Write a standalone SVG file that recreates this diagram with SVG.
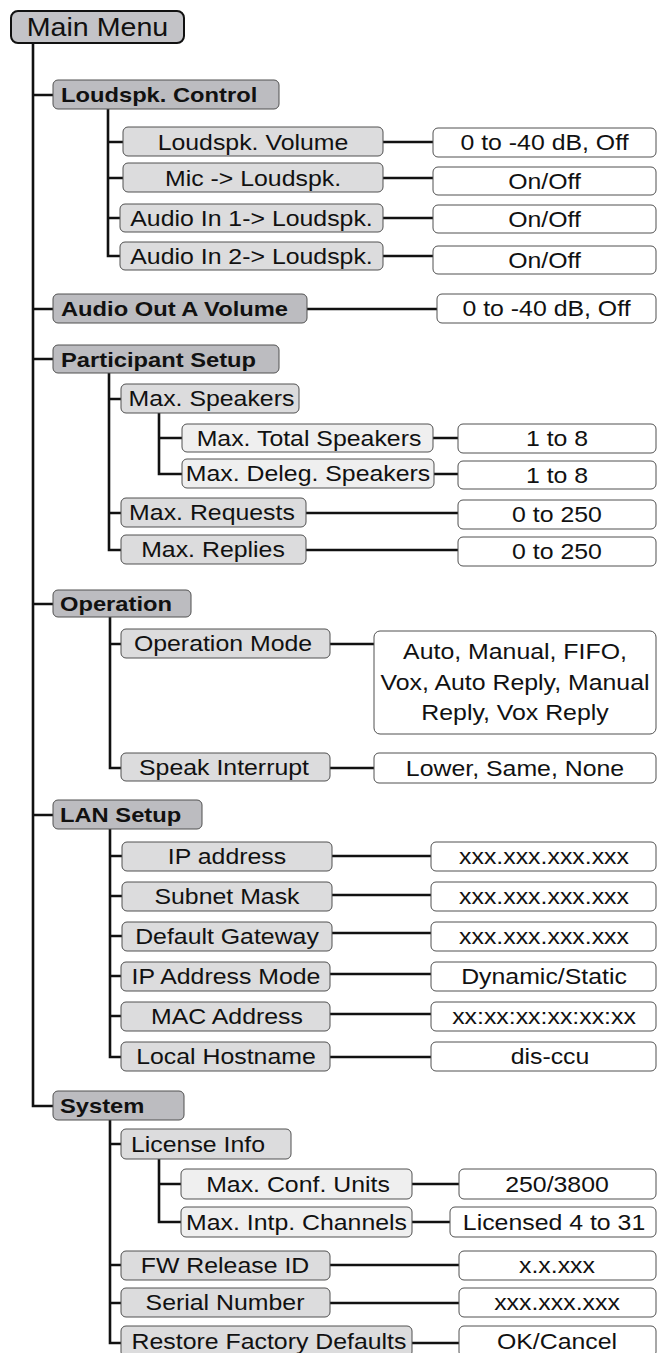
<svg xmlns="http://www.w3.org/2000/svg" width="657" height="1353" viewBox="0 0 657 1353">
<style>
rect{stroke:#505050;stroke-width:1}
.root{fill:#c3c3c7;stroke:#111;stroke-width:2}
.l1{fill:#bcbcc0}
.l2{fill:#dcdcdd}
.l3{fill:#efefef}
.v{fill:#ffffff}
text{font-family:"Liberation Sans",Arial,Helvetica,sans-serif;font-size:22px;fill:#111;text-anchor:middle}
.b{font-weight:bold;font-size:21px;text-anchor:start}
.s{text-anchor:start}
.m{font-size:26px}
#connectors path{fill:none;stroke:#111;stroke-width:2.6}
</style>
<g id="connectors">
<path d="M33,43 V1106 H53 M33,95 H53 M33,309 H53 M33,359 H53 M33,604 H53 M33,815 H53"/>
<path d="M108,109 V256 H120 M108,142 H123 M108,178 H123 M108,218 H120 M383,142 H433 M383,178 H433 M383,218 H433 M383,256 H433"/>
<path d="M307,309 H437"/>
<path d="M109,373 V550 H121 M109,399 H121 M109,513 H121 M159,413 V474 H182 M159,438 H182 M433,438 H458 M434,474 H458 M306,513 H458 M306,550 H458"/>
<path d="M110,617 V768 H121 M110,644 H121 M330,644 H374 M330,768 H374"/>
<path d="M110,829 V1057 H121 M110,856 H122 M110,896 H122 M110,936 H122 M110,976 H121 M110,1016 H121 M332,856 H431 M332,895 H431 M332,933 H431 M330,974 H431 M330,1014 H431 M330,1057 H431"/>
<path d="M110,1120 V1343 H121 M110,1144 H121 M110,1265 H121 M110,1303 H121 M159,1159 V1222 H181 M159,1184 H181 M412,1184 H459 M412,1222 H450 M330,1265 H459 M330,1303 H459 M412,1343 H459"/>
</g>
<g id="main-menu"><rect class="root" x="11" y="11" width="173" height="32" rx="7"/><text class="m" transform="translate(97.5,36) scale(1.1,1)">Main Menu</text></g>

<g id="loudspk-control"><rect class="l1" x="53" y="80" width="226" height="29" rx="5"/><text class="b" transform="translate(61,102) scale(1.13,1)">Loudspk. Control</text></g>
<g id="loudspk-volume"><rect class="l2" x="123" y="127" width="260" height="29" rx="5"/><text transform="translate(253,149.5) scale(1.13,1)">Loudspk. Volume</text></g>
<g id="loudspk-volume-val"><rect class="v" x="433" y="128" width="223" height="29" rx="5"/><text transform="translate(544.5,150) scale(1.13,1)">0 to -40 dB, Off</text></g>
<g id="mic-loudspk"><rect class="l2" x="123" y="163" width="260" height="29" rx="5"/><text transform="translate(253,185.5) scale(1.13,1)">Mic -&gt; Loudspk.</text></g>
<g id="mic-loudspk-val"><rect class="v" x="433" y="167" width="223" height="28" rx="5"/><text transform="translate(544.5,189) scale(1.13,1)">On/Off</text></g>
<g id="audio-in1"><rect class="l2" x="120" y="204" width="263" height="28" rx="5"/><text transform="translate(251.5,225.5) scale(1.13,1)">Audio In 1-&gt; Loudspk.</text></g>
<g id="audio-in1-val"><rect class="v" x="433" y="205" width="223" height="28" rx="5"/><text transform="translate(544.5,227) scale(1.13,1)">On/Off</text></g>
<g id="audio-in2"><rect class="l2" x="120" y="242" width="263" height="28" rx="5"/><text transform="translate(251.5,263.5) scale(1.13,1)">Audio In 2-&gt; Loudspk.</text></g>
<g id="audio-in2-val"><rect class="v" x="433" y="246" width="223" height="28" rx="5"/><text transform="translate(544.5,268) scale(1.13,1)">On/Off</text></g>

<g id="audio-out-a"><rect class="l1" x="53" y="294" width="254" height="29" rx="5"/><text class="b" transform="translate(61,316) scale(1.13,1)">Audio Out A Volume</text></g>
<g id="audio-out-a-val"><rect class="v" x="437" y="294" width="219" height="29" rx="5"/><text transform="translate(546.5,316) scale(1.13,1)">0 to -40 dB, Off</text></g>

<g id="participant-setup"><rect class="l1" x="53" y="345" width="226" height="28" rx="5"/><text class="b" transform="translate(61,366.5) scale(1.13,1)">Participant Setup</text></g>
<g id="max-speakers"><rect class="l2" x="121" y="384" width="178" height="29" rx="5"/><text transform="translate(211.5,406) scale(1.13,1)">Max. Speakers</text></g>
<g id="max-total"><rect class="l3" x="182" y="424" width="251" height="28" rx="5"/><text transform="translate(309,445.5) scale(1.13,1)">Max. Total Speakers</text></g>
<g id="max-total-val"><rect class="v" x="458" y="424" width="198" height="29" rx="5"/><text transform="translate(557,446) scale(1.13,1)">1 to 8</text></g>
<g id="max-deleg"><rect class="l3" x="182" y="459" width="252" height="29" rx="5"/><text transform="translate(308,481) scale(1.13,1)">Max. Deleg. Speakers</text></g>
<g id="max-deleg-val"><rect class="v" x="458" y="461" width="198" height="28" rx="5"/><text transform="translate(557,482.5) scale(1.13,1)">1 to 8</text></g>
<g id="max-requests"><rect class="l2" x="121" y="498" width="185" height="29" rx="5"/><text transform="translate(212,520) scale(1.13,1)">Max. Requests</text></g>
<g id="max-requests-val"><rect class="v" x="458" y="500" width="198" height="29" rx="5"/><text transform="translate(557,522) scale(1.13,1)">0 to 250</text></g>
<g id="max-replies"><rect class="l2" x="121" y="535" width="185" height="29" rx="5"/><text transform="translate(213,557) scale(1.13,1)">Max. Replies</text></g>
<g id="max-replies-val"><rect class="v" x="458" y="537" width="198" height="29" rx="5"/><text transform="translate(557,559) scale(1.13,1)">0 to 250</text></g>

<g id="operation"><rect class="l1" x="53" y="590" width="138" height="27" rx="5"/><text class="b" transform="translate(60,611) scale(1.13,1)">Operation</text></g>
<g id="operation-mode"><rect class="l2" x="121" y="629" width="209" height="29" rx="5"/><text transform="translate(223,651) scale(1.13,1)">Operation Mode</text></g>
<g id="operation-mode-val"><rect class="v" x="374" y="631" width="282" height="103" rx="6"/><text transform="translate(515,659) scale(1.13,1)">Auto, Manual, FIFO,</text><text transform="translate(515,690) scale(1.13,1)">Vox, Auto Reply, Manual</text><text transform="translate(515,720) scale(1.13,1)">Reply, Vox Reply</text></g>
<g id="speak-interrupt"><rect class="l2" x="121" y="753" width="209" height="28" rx="5"/><text transform="translate(224,774.5) scale(1.13,1)">Speak Interrupt</text></g>
<g id="speak-interrupt-val"><rect class="v" x="374" y="753" width="282" height="30" rx="5"/><text transform="translate(515,775.5) scale(1.13,1)">Lower, Same, None</text></g>

<g id="lan-setup"><rect class="l1" x="53" y="800" width="149" height="29" rx="5"/><text class="b" transform="translate(60,822) scale(1.13,1)">LAN Setup</text></g>
<g id="ip-address"><rect class="l2" x="122" y="842" width="210" height="29" rx="5"/><text transform="translate(227,864) scale(1.13,1)">IP address</text></g>
<g id="ip-address-val"><rect class="v" x="431" y="842" width="225" height="29" rx="5"/><text transform="translate(544,864) scale(1.13,1)">xxx.xxx.xxx.xxx</text></g>
<g id="subnet-mask"><rect class="l2" x="122" y="882" width="210" height="29" rx="5"/><text transform="translate(227,904) scale(1.13,1)">Subnet Mask</text></g>
<g id="subnet-mask-val"><rect class="v" x="431" y="882" width="225" height="29" rx="5"/><text transform="translate(544,904) scale(1.13,1)">xxx.xxx.xxx.xxx</text></g>
<g id="default-gateway"><rect class="l2" x="122" y="922" width="210" height="29" rx="5"/><text transform="translate(227,944) scale(1.13,1)">Default Gateway</text></g>
<g id="default-gateway-val"><rect class="v" x="431" y="922" width="225" height="29" rx="5"/><text transform="translate(544,944) scale(1.13,1)">xxx.xxx.xxx.xxx</text></g>
<g id="ip-address-mode"><rect class="l2" x="121" y="962" width="209" height="29" rx="5"/><text transform="translate(226,984) scale(1.13,1)">IP Address Mode</text></g>
<g id="ip-address-mode-val"><rect class="v" x="431" y="962" width="225" height="29" rx="5"/><text transform="translate(544,984) scale(1.13,1)">Dynamic/Static</text></g>
<g id="mac-address"><rect class="l2" x="121" y="1002" width="209" height="29" rx="5"/><text transform="translate(227,1024) scale(1.13,1)">MAC Address</text></g>
<g id="mac-address-val"><rect class="v" x="431" y="1002" width="225" height="29" rx="5"/><text transform="translate(544,1024) scale(1.13,1)">xx:xx:xx:xx:xx:xx</text></g>
<g id="local-hostname"><rect class="l2" x="121" y="1042" width="209" height="29" rx="5"/><text transform="translate(226,1064) scale(1.13,1)">Local Hostname</text></g>
<g id="local-hostname-val"><rect class="v" x="431" y="1042" width="225" height="29" rx="5"/><text transform="translate(550,1064) scale(1.13,1)">dis-ccu</text></g>

<g id="system"><rect class="l1" x="53" y="1091" width="131" height="29" rx="5"/><text class="b" transform="translate(60,1113) scale(1.13,1)">System</text></g>
<g id="license-info"><rect class="l2" x="121" y="1129" width="170" height="30" rx="5"/><text class="s" transform="translate(131,1151.5) scale(1.13,1)">License Info</text></g>
<g id="max-conf-units"><rect class="l3" x="181" y="1169" width="231" height="30" rx="5"/><text transform="translate(298,1191.5) scale(1.13,1)">Max. Conf. Units</text></g>
<g id="max-conf-units-val"><rect class="v" x="459" y="1169" width="197" height="30" rx="5"/><text transform="translate(557,1191.5) scale(1.13,1)">250/3800</text></g>
<g id="max-intp-channels"><rect class="l3" x="181" y="1207" width="231" height="30" rx="5"/><text transform="translate(296.5,1229.5) scale(1.13,1)">Max. Intp. Channels</text></g>
<g id="max-intp-channels-val"><rect class="v" x="450" y="1207" width="206" height="30" rx="5"/><text transform="translate(554,1229.5) scale(1.13,1)">Licensed 4 to 31</text></g>
<g id="fw-release-id"><rect class="l2" x="121" y="1251" width="209" height="29" rx="5"/><text transform="translate(225,1273) scale(1.13,1)">FW Release ID</text></g>
<g id="fw-release-id-val"><rect class="v" x="459" y="1251" width="197" height="29" rx="5"/><text transform="translate(557,1273) scale(1.13,1)">x.x.xxx</text></g>
<g id="serial-number"><rect class="l2" x="121" y="1288" width="209" height="29" rx="5"/><text transform="translate(225,1310) scale(1.13,1)">Serial Number</text></g>
<g id="serial-number-val"><rect class="v" x="459" y="1288" width="197" height="29" rx="5"/><text transform="translate(557,1310) scale(1.13,1)">xxx.xxx.xxx</text></g>
<g id="restore-defaults"><rect class="l2" x="121" y="1326" width="291" height="31" rx="5"/><text transform="translate(269,1349) scale(1.13,1)">Restore Factory Defaults</text></g>
<g id="restore-defaults-val"><rect class="v" x="459" y="1326" width="197" height="31" rx="5"/><text transform="translate(557,1349) scale(1.13,1)">OK/Cancel</text></g>
</svg>
